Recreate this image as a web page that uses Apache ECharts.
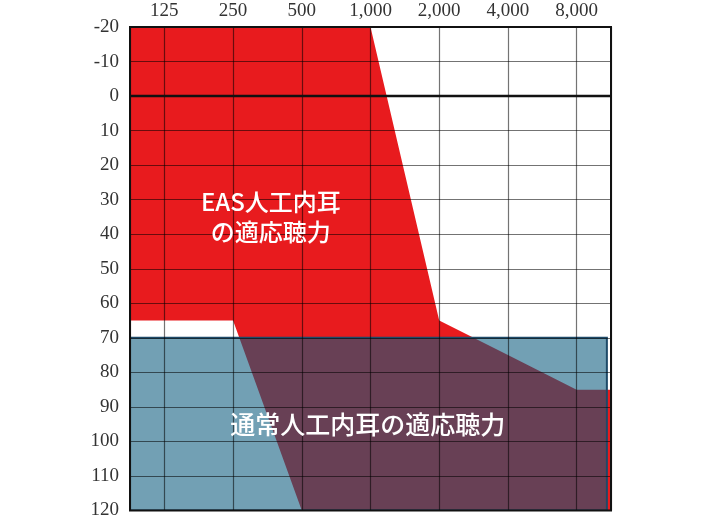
<!DOCTYPE html>
<html>
<head>
<meta charset="utf-8">
<script src="https://cdn.jsdelivr.net/npm/echarts@6/dist/echarts.min.js"></script>
<style>
html,body{margin:0;padding:0;background:#fff;}
#c{width:718px;height:520px;}
</style>
</head>
<body>
<div id="c"></div>
<script>
// Frequency labels (octave index 0..6)
const freqLabels = ['125', '250', '500', '1,000', '2,000', '4,000', '8,000'];
// Axis extents (octave index, dB HL)
const xMin = -0.5, xMax = 6.5;
const yMin = -20, yMax = 120;
// EAS cochlear implant indication region (octave index, dB)
const easX = [-0.5, 3, 4, 5, 6, 6.5, 6.5, 2, 1, -0.5];
const easY = [-20, -20, 65, 75, 85, 85, 120, 120, 65, 65];
// Conventional cochlear implant indication region
const ciX = [-0.5, 6.44, 6.44, -0.5];
const ciY = [70, 70, 120, 120];
// Zero reference line
const zeroDb = 0;
// Annotation texts and anchor points (octave index, dB)
const easLabel = 'EAS人工内耳\nの適応聴力';
const easLabelPos = [1.55, 35];
const ciLabel = '通常人工内耳の適応聴力';
const ciLabelPos = [2.96, 95];

function polygonSeries(xs, ys, style, z) {
  return {
    type: 'custom',
    z: z,
    clip: true,
    data: [[xs[0], ys[0]]],
    renderItem: function (params, api) {
      const pts = xs.map(function (x, i) { return api.coord([x, ys[i]]); });
      return { type: 'polygon', shape: { points: pts }, style: style };
    }
  };
}

const chart = echarts.init(document.getElementById('c'), null, { renderer: 'canvas' });
const serif = '"Liberation Serif", "Times New Roman", serif';
const cjk = '"Noto Sans CJK JP", sans-serif';

function textSeries(pos, text, size, lineHeight) {
  return {
    type: 'scatter', z: 8, symbolSize: 0, silent: true,
    itemStyle: { opacity: 1 },
    data: [pos],
    label: {
      show: true, position: 'inside', formatter: text, opacity: 1,
      color: '#ffffff', textBorderWidth: 0, textBorderColor: 'transparent',
      fontFamily: cjk, fontSize: size, fontWeight: 500, lineHeight: lineHeight, align: 'center'
    }
  };
}

chart.setOption({
  backgroundColor: '#fff',
  animation: false,
  grid: {
    left: 130, right: 107, top: 27, bottom: 9,
    show: true, borderColor: '#111', borderWidth: 2,
    backgroundColor: 'transparent', z: 7
  },
  xAxis: {
    type: 'value', position: 'top', min: xMin, max: xMax, splitNumber: 7, z: 5,
    axisLine: { show: false }, axisTick: { show: false },
    axisLabel: {
      margin: 6, color: '#333', fontFamily: serif, fontSize: 19,
      formatter: function (v) {
        const i = Math.round(v);
        return Math.abs(v - i) < 1e-6 && freqLabels[i] ? freqLabels[i] : '';
      }
    },
    splitLine: { show: true, lineStyle: { color: 'rgba(0,0,0,0.55)', width: 1.2 } }
  },
  yAxis: {
    type: 'value', inverse: true, min: yMin, max: yMax, interval: 10, z: 5,
    axisLine: { show: false }, axisTick: { show: false },
    axisLabel: { margin: 11, color: '#333', fontFamily: serif, fontSize: 19 },
    splitLine: { show: true, lineStyle: { color: 'rgba(0,0,0,0.55)', width: 1.2 } }
  },
  series: [
    polygonSeries(easX, easY, { fill: '#e81b1e' }, 2),
    polygonSeries(ciX, ciY, { fill: 'rgba(12,92,126,0.58)', stroke: '#1d4a68', lineWidth: 2 }, 3),
    {
      type: 'line', z: 6, symbol: 'none', silent: true,
      data: [[xMin, zeroDb], [xMax, zeroDb]],
      lineStyle: { color: '#111', width: 2.5 }
    },
    textSeries(easLabelPos, easLabel, 24, 30),
    textSeries(ciLabelPos, ciLabel, 25, 30)
  ]
});
</script>
</body>
</html>
